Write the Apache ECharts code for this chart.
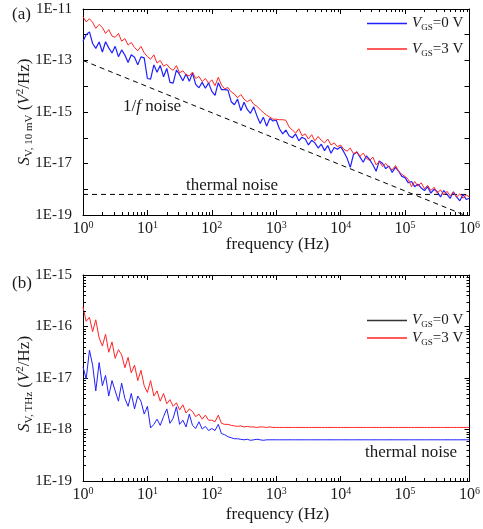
<!DOCTYPE html>
<html>
<head>
<meta charset="utf-8">
<script src="https://cdn.jsdelivr.net/npm/echarts@6/dist/echarts.min.js"></script>
<style>html,body{margin:0;padding:0;background:#fff}#c{width:483px;height:529px}</style>
</head>
<body>
<div id="c"></div>
<script>
// ---- sampling frequencies (Hz) ----
const freq = [
 1,1.12,1.26,1.41,1.58,1.78,2,2.24,2.51,2.82,3.16,3.55,3.98,4.47,5.01,5.62,6.31,7.08,7.94,8.91,
 10,11.2,12.6,14.1,15.8,17.8,20,22.4,25.1,28.2,31.6,35.5,39.8,44.7,50.1,56.2,63.1,70.8,79.4,89.1,
 100,112,126,141,158,178,200,224,251,282,316,355,398,447,501,562,631,708,794,891,
 1000,1120,1260,1410,1580,1780,2000,2240,2510,2820,3160,3550,3980,4470,5010,5620,6310,7080,7940,8910,
 10000,11200,12600,14100,15800,17800,20000,22400,25100,28200,31600,35500,39800,44700,50100,56200,63100,70800,79400,89100,
 100000,112000,126000,141000,158000,178000,200000,224000,251000,282000,316000,355000,398000,447000,501000,562000,631000,708000,794000,891000,
 1000000
];
// ---- panel (a): log10 of S_V,10mV (V^2/Hz) ----
const logSa_VGS0 = [
 -12.25,-12.0,-11.89,-12.34,-12.53,-12.28,-12.67,-12.27,-12.51,-12.71,-12.45,-12.85,-12.59,-12.79,-13.08,-12.78,-12.87,-13.17,-12.86,-12.9,
 -13.7,-13.72,-13.17,-13.46,-13.19,-13.63,-13.31,-13.85,-13.88,-13.37,-13.55,-13.79,-13.52,-13.81,-13.49,-13.93,-14.06,-13.85,-14.08,-13.87,
 -14.2,-14.35,-13.86,-14.13,-14.13,-14.15,-14.6,-14.72,-14.5,-14.95,-14.62,-14.9,-15.05,-14.8,-15.15,-15.45,-15.2,-15.55,-15.25,-15.35,
 -15.32,-15.65,-15.85,-15.7,-15.92,-16.0,-15.85,-16.12,-15.98,-16.05,-16.28,-16.1,-16.2,-16.4,-16.25,-16.5,-16.3,-16.6,-16.38,-16.45,
 -16.35,-16.55,-16.8,-17.15,-16.65,-16.55,-16.75,-16.95,-16.7,-16.85,-17.05,-17.3,-16.9,-17.0,-17.2,-17.1,-17.35,-17.15,-17.3,-17.5,
 -17.55,-17.75,-17.7,-17.9,-17.8,-17.95,-18.05,-17.9,-18.15,-18.0,-18.1,-18.3,-18.05,-18.2,-18.35,-18.1,-18.3,-18.45,-18.2,-18.4,
 -18.35
];
const logSa_VGS3 = [
 -11.3,-11.5,-11.38,-11.52,-11.75,-11.6,-11.72,-11.95,-11.8,-12.05,-12.1,-11.95,-12.25,-12.15,-12.4,-12.3,-12.5,-12.62,-12.45,-12.7,
 -12.85,-12.95,-12.78,-13.1,-13.0,-13.22,-13.15,-13.3,-13.38,-13.2,-13.48,-13.4,-13.55,-13.6,-13.45,-13.7,-13.62,-13.82,-13.7,-13.88,
 -13.75,-13.98,-13.65,-13.95,-14.1,-14.05,-14.22,-14.3,-14.45,-14.32,-14.5,-14.6,-14.52,-14.7,-14.78,-14.9,-15.02,-15.12,-15.2,-15.28,
 -15.28,-15.3,-15.3,-15.32,-15.58,-15.7,-15.82,-15.65,-15.92,-15.85,-16.05,-15.88,-16.12,-15.95,-16.1,-16.2,-16.05,-16.28,-16.2,-16.35,
 -16.28,-16.45,-16.52,-16.4,-16.62,-16.55,-16.72,-16.6,-16.8,-16.88,-16.75,-17.05,-16.92,-17.12,-17.0,-17.15,-17.25,-17.08,-17.3,-17.42,
 -17.5,-17.62,-17.9,-17.7,-17.88,-17.75,-17.98,-17.85,-18.05,-17.92,-18.15,-18.02,-18.22,-18.08,-18.25,-18.12,-18.3,-18.18,-18.35,-18.22,
 -18.3
];
// reference lines in panel (a): [frequency, S]
const oneOverFLine = [[1, 1e-13], [1000000, 8.3e-20]];
const thermalLine = [[1, 6.3e-19], [1000000, 6.3e-19]];
// ---- panel (b): log10 of S_V,THz (V^2/Hz) ----
const logSb_VGS0 = [
 -16.78,-17.02,-16.46,-16.75,-17.25,-16.7,-17.15,-16.95,-17.35,-17.05,-17.25,-17.45,-17.1,-17.4,-17.55,-17.3,-17.6,-17.35,-17.45,-17.7,
 -17.55,-17.97,-17.9,-17.8,-17.92,-17.75,-17.6,-17.88,-17.78,-17.56,-17.9,-17.82,-17.95,-17.7,-17.92,-17.98,-17.85,-17.99,-17.94,-18.02,
 -17.98,-18.02,-17.9,-18.08,-18.1,-18.14,-18.16,-18.18,-18.18,-18.19,-18.2,-18.19,-18.21,-18.2,-18.19,-18.2,-18.21,-18.2,-18.2,-18.2,
 -18.2,-18.2,-18.2,-18.2,-18.2,-18.2,-18.2,-18.2,-18.2,-18.2,-18.2,-18.2,-18.2,-18.2,-18.2,-18.2,-18.2,-18.2,-18.2,-18.2,
 -18.2,-18.2,-18.2,-18.2,-18.2,-18.2,-18.2,-18.2,-18.2,-18.2,-18.2,-18.2,-18.2,-18.2,-18.2,-18.2,-18.2,-18.2,-18.2,-18.2,
 -18.2,-18.2,-18.2,-18.2,-18.2,-18.2,-18.2,-18.2,-18.2,-18.2,-18.2,-18.2,-18.2,-18.2,-18.2,-18.2,-18.2,-18.2,-18.2,-18.2,
 -18.2
];
const logSb_VGS3 = [
 -15.62,-15.9,-15.82,-16.1,-15.87,-16.22,-16.38,-16.15,-16.5,-16.3,-16.62,-16.45,-16.55,-16.8,-16.6,-16.9,-16.75,-17.05,-16.85,-17.15,
 -17.28,-17.05,-17.35,-17.25,-17.45,-17.3,-17.5,-17.42,-17.55,-17.48,-17.62,-17.52,-17.68,-17.6,-17.65,-17.75,-17.7,-17.8,-17.72,-17.82,
 -17.82,-17.85,-17.72,-17.88,-17.9,-17.9,-17.92,-17.93,-17.94,-17.93,-17.95,-17.94,-17.95,-17.95,-17.96,-17.95,-17.95,-17.96,-17.95,-17.96,
 -17.96,-17.96,-17.96,-17.96,-17.96,-17.96,-17.96,-17.96,-17.96,-17.96,-17.96,-17.96,-17.96,-17.96,-17.96,-17.96,-17.96,-17.96,-17.96,-17.96,
 -17.96,-17.96,-17.96,-17.96,-17.96,-17.96,-17.96,-17.96,-17.96,-17.96,-17.96,-17.96,-17.96,-17.96,-17.96,-17.96,-17.96,-17.96,-17.96,-17.96,
 -17.96,-17.96,-17.96,-17.96,-17.96,-17.96,-17.96,-17.96,-17.96,-17.96,-17.96,-17.96,-17.96,-17.96,-17.96,-17.96,-17.96,-17.96,-17.96,-17.96,
 -17.96
];
// ---- axis tick positions ----
const minorTickFreqs = [2,3,4,5,6,7,8,9,20,30,40,50,60,70,80,90,200,300,400,500,600,700,800,900,
 2000,3000,4000,5000,6000,7000,8000,9000,20000,30000,40000,50000,60000,70000,80000,90000,
 200000,300000,400000,500000,600000,700000,800000,900000];
const minorTickSb = [2e-19,3e-19,4e-19,5e-19,6e-19,7e-19,8e-19,9e-19,2e-18,3e-18,4e-18,5e-18,6e-18,7e-18,8e-18,9e-18,
 2e-17,3e-17,4e-17,5e-17,6e-17,7e-17,8e-17,9e-17,2e-16,3e-16,4e-16,5e-16,6e-16,7e-16,8e-16,9e-16];
const seriesNames = ['VGS=0 V', 'VGS=3 V'];

const FONT = 'Liberation Serif, DejaVu Serif, serif';
const TXT = '#1a1a1a';
const BLUE = '#1f1fff', RED = '#ff2424';
const pair = (logs) => freq.map((f, i) => [f, Math.pow(10, logs[i])]);
const expOf = v => Math.round(Math.log10(v));

const xLabelRich = {
  b: {fontFamily: FONT, fontSize: 16, color: TXT, lineHeight: 18},
  s: {fontFamily: FONT, fontSize: 10, color: TXT, lineHeight: 10, verticalAlign: 'top'}
};
function xAxis(grid, pos, labels) {
  return {
    type: 'log', logBase: 10, gridIndex: grid, position: pos, min: 1, max: 1000000, interval: 1,
    axisLine: {show: true, onZero: false, lineStyle: {color: '#000', width: 1}},
    axisTick: {show: true, inside: true, length: 5, lineStyle: {color: '#000', width: 1}},
    splitLine: {show: false}, minorTick: {show: false},
    axisLabel: {show: labels, margin: 5, fontFamily: FONT, formatter: v => '{b|10}{s|' + expOf(v) + '}', rich: xLabelRich}
  };
}
function yAxis(grid, pos, labels, min, max, oddOnly) {
  return {
    type: 'log', logBase: 10, gridIndex: grid, position: pos, min: min, max: max, interval: 1,
    axisLine: {show: true, onZero: false, lineStyle: {color: '#000', width: 1}},
    axisTick: {show: true, inside: true, length: 5, lineStyle: {color: '#000', width: 1}},
    splitLine: {show: false}, minorTick: {show: false},
    axisLabel: {show: labels, margin: 11, fontFamily: FONT, fontSize: 15, color: TXT,
      formatter: v => { const e = expOf(v); if (oddOnly && e % 2 === 0) return ''; return '1E' + e; }}
  };
}
function minorXSeries(xi, yi, yMin, yMax) {
  return {
    type: 'custom', xAxisIndex: xi, yAxisIndex: yi, silent: true, z: 5,
    data: minorTickFreqs.map(f => [f, yMin]),
    renderItem: (params, api) => {
      const f = api.value(0);
      const pb = api.coord([f, yMin]), pt = api.coord([f, yMax]);
      const x = Math.round(pb[0]) + 0.5;
      return {type: 'group', children: [
        {type: 'line', shape: {x1: x, y1: pb[1], x2: x, y2: pb[1] - 3}, style: {stroke: '#000', lineWidth: 1}},
        {type: 'line', shape: {x1: x, y1: pt[1], x2: x, y2: pt[1] + 3}, style: {stroke: '#000', lineWidth: 1}}
      ]};
    }
  };
}
function minorYSeries(xi, yi, vals) {
  return {
    type: 'custom', xAxisIndex: xi, yAxisIndex: yi, silent: true, z: 5,
    data: vals.map(v => [1, v]),
    renderItem: (params, api) => {
      const v = api.value(1);
      const pl = api.coord([1, v]), pr = api.coord([1000000, v]);
      const y = Math.round(pl[1]) + 0.5;
      return {type: 'group', children: [
        {type: 'line', shape: {x1: pl[0], y1: y, x2: pl[0] + 3, y2: y}, style: {stroke: '#000', lineWidth: 1}},
        {type: 'line', shape: {x1: pr[0], y1: y, x2: pr[0] - 3, y2: y}, style: {stroke: '#000', lineWidth: 1}}
      ]};
    }
  };
}
const legendRich = {
  v: {fontFamily: FONT, fontSize: 15, fontStyle: 'italic', color: TXT, lineHeight: 18},
  s: {fontFamily: FONT, fontSize: 9, color: TXT, lineHeight: 9, verticalAlign: 'bottom'},
  t: {fontFamily: FONT, fontSize: 15, color: TXT, lineHeight: 18}
};
const legendFmt = name => '{v|V}{s|GS}{t|' + name.replace('VGS', '') + '}';
const lineSeries = (name, xi, yi, logs, color, w) => ({
  name: name, type: 'line', xAxisIndex: xi, yAxisIndex: yi, data: pair(logs),
  symbol: 'none', showSymbol: false, lineStyle: {color: color, width: w}, itemStyle: {color: color},
  animation: false, z: 3
});
const dashSeries = (data) => ({
  type: 'line', xAxisIndex: 0, yAxisIndex: 0, data: data, symbol: 'none', silent: true,
  lineStyle: {color: '#000', width: 1, type: [5, 4]}, animation: false, z: 2
});
const titleRich = (subSize) => ({
  i: {fontFamily: FONT, fontSize: 17, fontStyle: 'italic', fill: TXT, lineHeight: 20},
  n: {fontFamily: FONT, fontSize: 17, fill: TXT, lineHeight: 20},
  sub: {fontFamily: FONT, fontSize: subSize, fill: TXT, lineHeight: 10, verticalAlign: 'bottom'},
  sup: {fontFamily: FONT, fontSize: 11, fill: TXT, lineHeight: 10, verticalAlign: 'top'}
});
const txt = (x, y, text, align) => ({type: 'text', x: x, y: y,
  style: {text: text, fontFamily: FONT, fontSize: 17, fill: TXT, verticalAlign: 'middle', align: align || 'left'}});

const chart = echarts.init(document.getElementById('c'), null, {renderer: 'canvas'});
chart.setOption({
  animation: false,
  backgroundColor: '#fff',
  textStyle: {fontFamily: FONT},
  grid: [
    {left: 83, top: 9, width: 389, height: 206, containLabel: false},
    {left: 83, top: 275, width: 389, height: 206, containLabel: false}
  ],
  xAxis: [xAxis(0, 'bottom', true), xAxis(0, 'top', false), xAxis(1, 'bottom', true), xAxis(1, 'top', false)],
  yAxis: [yAxis(0, 'left', true, 1e-19, 1e-11, true), yAxis(0, 'right', false, 1e-19, 1e-11, true),
          yAxis(1, 'left', true, 1e-19, 1e-15, false), yAxis(1, 'right', false, 1e-19, 1e-15, false)],
  legend: [
    {orient: 'vertical', left: 367, top: 16, padding: 0, itemWidth: 40, itemHeight: 1.3, itemGap: 9, itemTextGap: 3,
     icon: 'rect', selectedMode: false, data: [{name: seriesNames[0]}, {name: seriesNames[1]}],
     formatter: legendFmt, textStyle: {fontFamily: FONT, rich: legendRich}},
    {orient: 'vertical', left: 367, top: 313, padding: 0, itemWidth: 40, itemHeight: 1.3, itemGap: 1, itemTextGap: 3,
     icon: 'rect', selectedMode: false,
     data: [{name: seriesNames[0], itemStyle: {color: '#333'}}, {name: seriesNames[1]}],
     formatter: legendFmt, textStyle: {fontFamily: FONT, rich: legendRich}}
  ],
  series: [
    dashSeries(oneOverFLine),
    dashSeries(thermalLine),
    lineSeries(seriesNames[0], 0, 0, logSa_VGS0, BLUE, 1.2),
    lineSeries(seriesNames[1], 0, 0, logSa_VGS3, RED, 1),
    lineSeries(seriesNames[0], 2, 2, logSb_VGS0, BLUE, 1),
    lineSeries(seriesNames[1], 2, 2, logSb_VGS3, RED, 1),
    minorXSeries(0, 0, 1e-19, 1e-11),
    minorXSeries(2, 2, 1e-19, 1e-15),
    minorYSeries(2, 2, minorTickSb)
  ],
  graphic: [
    txt(12, 15, '(a)'),
    txt(12, 284, '(b)'),
    {type: 'text', x: 123, y: 107, style: {text: '{n|1/}{i|f}{n| noise}', rich: titleRich(11), verticalAlign: 'middle', align: 'left'}},
    txt(186, 186, 'thermal noise'),
    txt(365, 453, 'thermal noise'),
    txt(277.5, 245, 'frequency (Hz)', 'center'),
    txt(277.5, 515, 'frequency (Hz)', 'center'),
    {type: 'text', x: 25, y: 112, rotation: Math.PI / 2,
     style: {text: '{i|S}{sub|V, 10 mV}{n| (}{i|V}{sup|2}{n|/Hz)}', rich: titleRich(11), align: 'center', verticalAlign: 'middle'}},
    {type: 'text', x: 25, y: 384, rotation: Math.PI / 2,
     style: {text: '{i|S}{sub|V, THz}{n| (}{i|V}{sup|2}{n|/Hz)}', rich: titleRich(11), align: 'center', verticalAlign: 'middle'}}
  ]
});
</script>
</body>
</html>
